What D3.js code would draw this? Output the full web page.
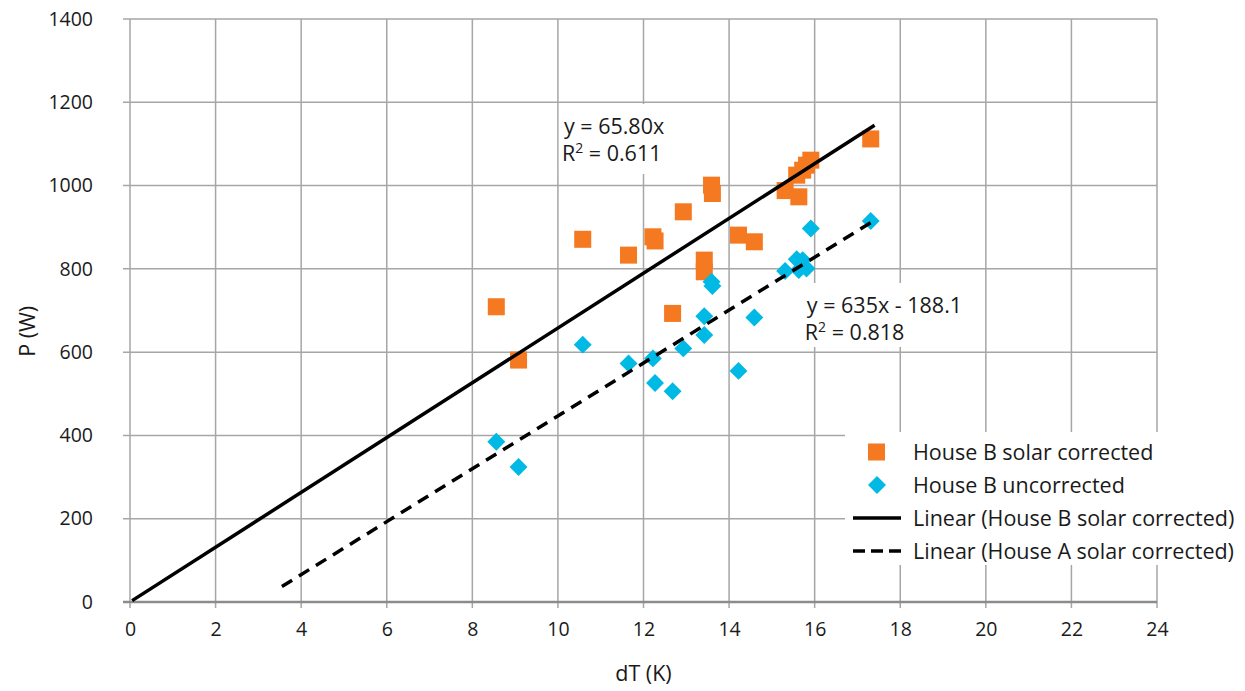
<!DOCTYPE html>
<html>
<head>
  <meta charset="UTF-8">
  <title>P vs dT</title>
  <script src="https://d3js.org/d3.v7.min.js"></script>
  <style>
    body { margin: 0; background: #fff; }
    svg text { font-family: "Open Sans", Lato, sans-serif; fill: #1a1a1a; }
    .grid line { stroke: #a6a6a6; stroke-width: 1.5px; }
  </style>
</head>
<body>
  <svg id="chart" width="1245" height="691"></svg>
  <script>
    // values
    const dT = [8.56, 9.08, 10.58, 11.65, 12.22, 12.27, 12.68, 12.93, 13.42, 13.42, 13.59,
      13.61, 14.22, 14.59, 15.31, 15.58, 15.63, 15.72, 15.81, 15.91, 17.31];
    const solarCorrected = [709, 581, 871, 833, 877, 867, 693, 937, 821, 793, 1001,
      981, 881, 865, 988, 1025, 973, 1037, 1049, 1061, 1112];
    const uncorrected = [385, 324, 618, 573, 585, 526, 506, 609, 686, 641, 769,
      759, 555, 683, 795, 823, 797, 821, 801, 897, 915];
    const xTicks = [0, 2, 4, 6, 8, 10, 12, 14, 16, 18, 20, 22, 24];
    const yTicks = [0, 200, 400, 600, 800, 1000, 1200, 1400];
    // trendlines: [slope, intercept, xStart, xEnd]
    const trendB = [65.80, 0, 0.05, 17.4];
    const trendA = [63.5, -188.1, 3.55, 17.4];
    const legendLabels = ["House B solar corrected", "House B uncorrected",
      "Linear (House B solar corrected)", "Linear (House A solar corrected)"];

    const orange = "#f47920", blue = "#00b9e4";
    const fs = "19.5px", fsText = "21.5px";
    const svg = d3.select("#chart");
    const margin = { top: 19, right: 88, bottom: 89, left: 130 };
    const width = 1245 - margin.left - margin.right,
      height = 691 - margin.top - margin.bottom;

    const x = d3.scaleLinear().domain([0, 24]).range([0, width]);
    const y = d3.scaleLinear().domain([0, 1400]).range([height, 0]);

    const g = svg.append("g").attr("transform", `translate(${margin.left},${margin.top})`);

    // gridlines
    const grid = g.append("g").attr("class", "grid");
    grid.selectAll(".vx").data(xTicks).enter().append("line")
      .attr("x1", d => x(d)).attr("x2", d => x(d))
      .attr("y1", 0).attr("y2", height + 6);
    grid.selectAll(".hy").data(yTicks).enter().append("line")
      .attr("x1", -7).attr("x2", width)
      .attr("y1", d => y(d)).attr("y2", d => y(d));
    g.append("line").attr("x1", -7).attr("x2", width).attr("y1", height).attr("y2", height)
      .attr("stroke", "#8c8c8c").attr("stroke-width", 2.5);

    // axis labels
    const xAxis = d3.axisBottom(x).tickValues(xTicks).tickFormat(d3.format("d")).tickSize(0).tickPadding(20);
    g.append("g").attr("transform", `translate(0,${height})`).call(xAxis)
      .call(a => a.select(".domain").remove())
      .selectAll("text").style("font-size", fs);
    const yAxis = d3.axisLeft(y).tickValues(yTicks).tickFormat(d3.format("d")).tickSize(0).tickPadding(37);
    g.append("g").call(yAxis)
      .call(a => a.select(".domain").remove())
      .selectAll("text").style("font-size", fs);

    // points
    const pts = dT.map((d, i) => ({ x: d, a: solarCorrected[i], b: uncorrected[i] }));
    g.selectAll(".sq").data(pts).enter().append("rect")
      .attr("x", d => x(d.x) - 8.5).attr("y", d => y(d.a) - 8.5)
      .attr("width", 17).attr("height", 17).attr("fill", orange);
    const diamond = d3.symbol().type(d3.symbolDiamond2).size(205);
    g.selectAll(".dm").data(pts).enter().append("path")
      .attr("d", diamond)
      .attr("transform", d => `translate(${x(d.x)},${y(d.b)})`)
      .attr("fill", blue);

    // trend lines
    function trend(t) {
      return [t[2], t[3]].map(v => [x(v), y(t[0] * v + t[1])]);
    }
    const line = d3.line();
    g.append("path").attr("d", line(trend(trendB)))
      .attr("stroke", "#000").attr("stroke-width", 3.5).attr("fill", "none");
    g.append("path").attr("d", line(trend(trendA)))
      .attr("stroke", "#000").attr("stroke-width", 3.5).attr("fill", "none")
      .attr("stroke-dasharray", "12,8");

    // equation labels
    function eqLabel(px, py, w, h, eq, r2) {
      g.append("rect").attr("x", px).attr("y", py).attr("width", w).attr("height", h).attr("fill", "#fff");
      g.append("text").attr("x", px + 5).attr("y", py + 30).style("font-size", fsText).text(eq);
      const t = g.append("text").attr("x", px + 3).attr("y", py + 57).style("font-size", fsText);
      t.append("tspan").text("R");
      t.append("tspan").attr("dy", -8).style("font-size", "14px").text("2");
      t.append("tspan").attr("dy", 8).text(" = " + r2);
    }
    eqLabel(x(10) + 1, 85, 122, 70, "y = 65.80x", "0.611");
    eqLabel(x(15.7), 264, 140, 64, "y = 635x - 188.1", "0.818");

    // legend
    const lg = svg.append("g").attr("transform", "translate(845,432)");
    lg.append("rect").attr("width", 400).attr("height", 133).attr("fill", "#fff");
    legendLabels.forEach((lab, i) => {
      const cy = 20 + i * 33;
      if (i === 0) {
        lg.append("rect").attr("x", 23).attr("y", cy - 8.5).attr("width", 17).attr("height", 17).attr("fill", orange);
      } else if (i === 1) {
        lg.append("path").attr("d", diamond).attr("transform", `translate(32,${cy})`).attr("fill", blue);
      } else {
        lg.append("line").attr("x1", 8).attr("x2", 56).attr("y1", cy).attr("y2", cy)
          .attr("stroke", "#000").attr("stroke-width", 3.5)
          .attr("stroke-dasharray", i === 3 ? "12,6" : null);
      }
      lg.append("text").attr("x", 68).attr("y", cy + 8).style("font-size", fsText).text(lab);
    });

    // axis titles
    svg.append("text").attr("x", margin.left + x(12)).attr("y", 681)
      .attr("text-anchor", "middle").style("font-size", fsText).text("dT (K)");
    svg.append("text").attr("transform", `translate(35,${margin.top + y(650)}) rotate(-90)`)
      .attr("text-anchor", "middle").style("font-size", fsText).text("P (W)");
  </script>
</body>
</html>
